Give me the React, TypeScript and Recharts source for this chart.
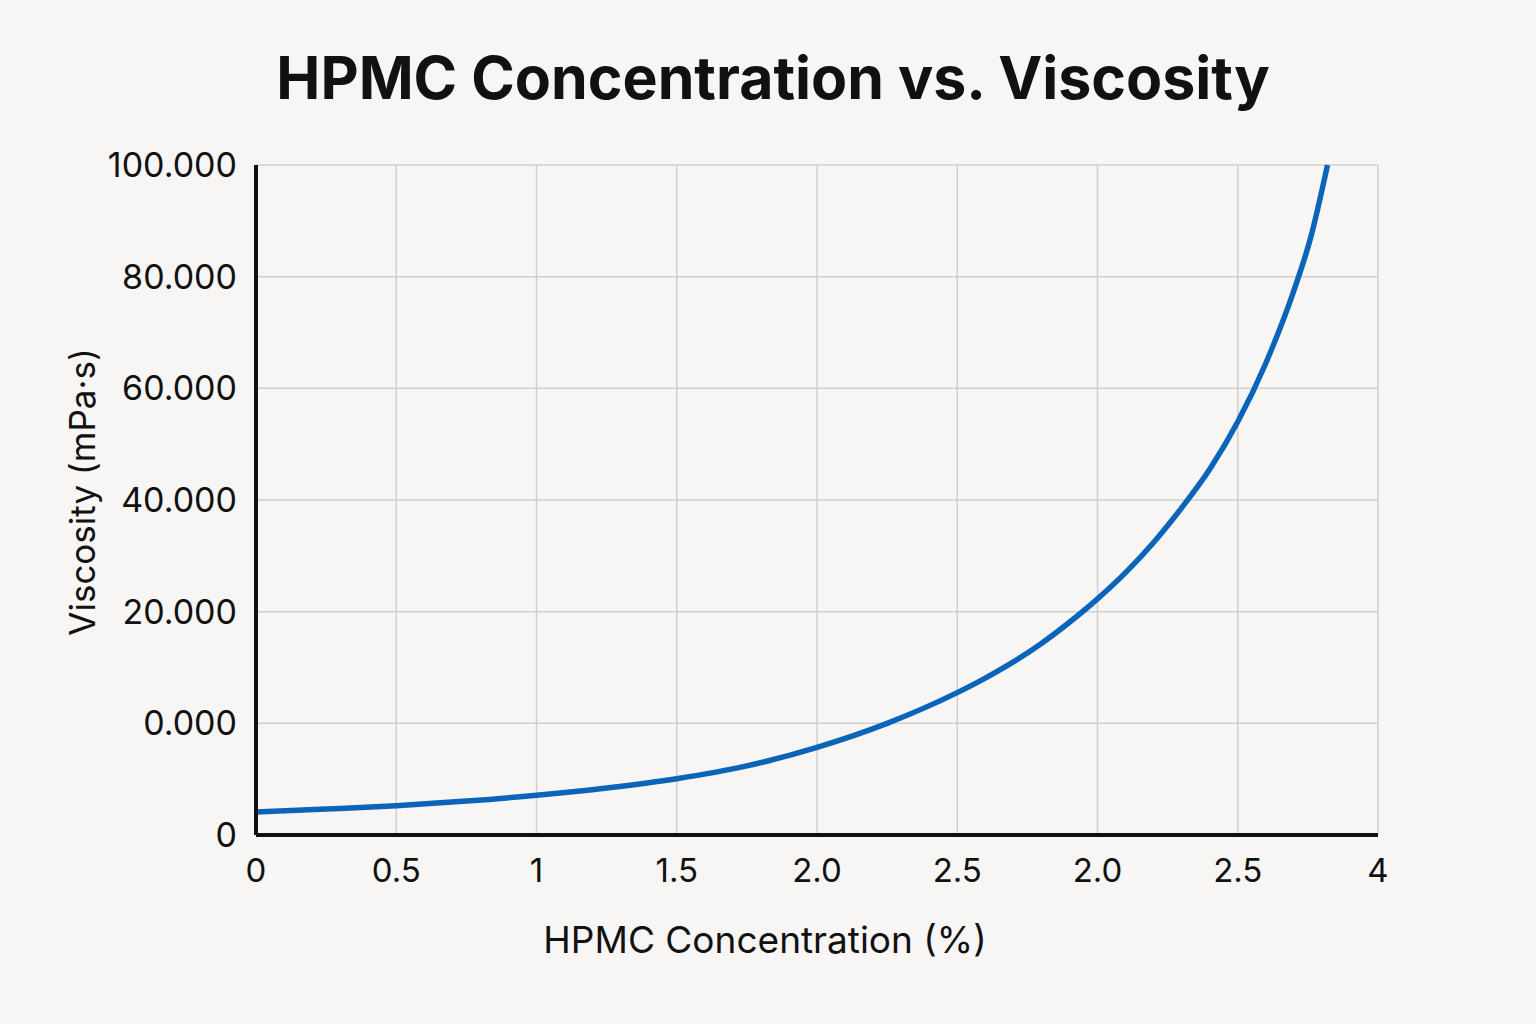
import React from "react"
import { CartesianGrid, Line, LineChart, XAxis, YAxis } from "recharts"

// concentration (%) and viscosity (y in axis units, 20 per grid step)
const concentration = [0, 0.25, 0.5, 0.75, 1, 1.25, 1.5, 1.75, 2, 2.25, 2.5, 2.6, 2.7, 2.8, 2.9, 3.0, 3.1, 3.2, 3.3, 3.4, 3.5, 3.6, 3.7, 3.76, 3.82]
const viscosity = [4.1, 4.65, 5.26, 6.08, 7.1, 8.42, 10.08, 12.37, 15.7, 20.0, 25.5, 28.1, 31.0, 34.3, 38.1, 42.3, 47.0, 52.4, 58.6, 65.5, 74.0, 84.5, 97.5, 107.0, 120.0]

const xTicks = [0, 0.5, 1, 1.5, 2, 2.5, 3, 3.5, 4]
const xTickLabels = ["0", "0.5", "1", "1.5", "2.0", "2.5", "2.0", "2.5", "4"]
const yTicks = [0, 20, 40, 60, 80, 100, 120]
const yTickLabels = ["0", "0.000", "20.000", "40.000", "60.000", "80.000", "100.000"]

const data = concentration.map((c, i) => ({ x: c, y: viscosity[i] }))

const font = "Inter, 'Liberation Sans', Arial, sans-serif"

const YLabel = () => (
  <text
    x={82}
    y={492}
    transform="rotate(-90 82 492)"
    textAnchor="middle"
    dominantBaseline="central"
    fill="#111"
    fontSize={35}
    fontFamily={font}
  >
    Viscosity (mPa·s)
  </text>
)

export default function App() {
  return (
    <div
      style={{
        position: "absolute",
        left: 0,
        top: 0,
        width: 1536,
        height: 1024,
        background: "#f7f6f4",
        fontFamily: font,
      }}
    >
      <div
        style={{
          position: "absolute",
          top: 42,
          left: 0,
          width: 1546,
          textAlign: "center",
          fontSize: 59,
          fontWeight: 700,
          color: "#111",
        }}
      >
        HPMC Concentration vs. Viscosity
      </div>
      <div style={{ position: "absolute", left: 0, top: 0 }}>
        <LineChart
          width={1536}
          height={1024}
          data={data}
          margin={{ top: 165, right: 158, bottom: 129, left: 156 }}
        >
          <CartesianGrid stroke="#cfcfcf" strokeWidth={1.5} />
          <XAxis
            type="number"
            dataKey="x"
            domain={[0, 4]}
            ticks={xTicks}
            interval={0}
            height={60}
            tickLine={false}
            axisLine={{ stroke: "#111", strokeWidth: 4 }}
            tick={{ fill: "#111", fontSize: 33, fontFamily: font }}
            tickMargin={18}
            tickFormatter={(v) => xTickLabels[xTicks.indexOf(v)] ?? String(v)}
            label={{
              value: "HPMC Concentration (%)",
              position: "bottom",
              offset: 32,
              dx: -52,
              fill: "#111",
              fontSize: 37,
              fontFamily: font,
            }}
          />
          <YAxis
            type="number"
            domain={[0, 120]}
            ticks={yTicks}
            interval={0}
            width={100}
            tickLine={false}
            axisLine={{ stroke: "#111", strokeWidth: 4 }}
            tick={{ fill: "#111", fontSize: 34, fontFamily: font }}
            tickMargin={13}
            tickFormatter={(v) => yTickLabels[yTicks.indexOf(v)] ?? String(v)}
            label={<YLabel />}
          />
          <Line
            type="monotone"
            dataKey="y"
            stroke="#0a64b9"
            strokeWidth={5.5}
            dot={false}
            isAnimationActive={false}
          />
        </LineChart>
      </div>
    </div>
  )
}
